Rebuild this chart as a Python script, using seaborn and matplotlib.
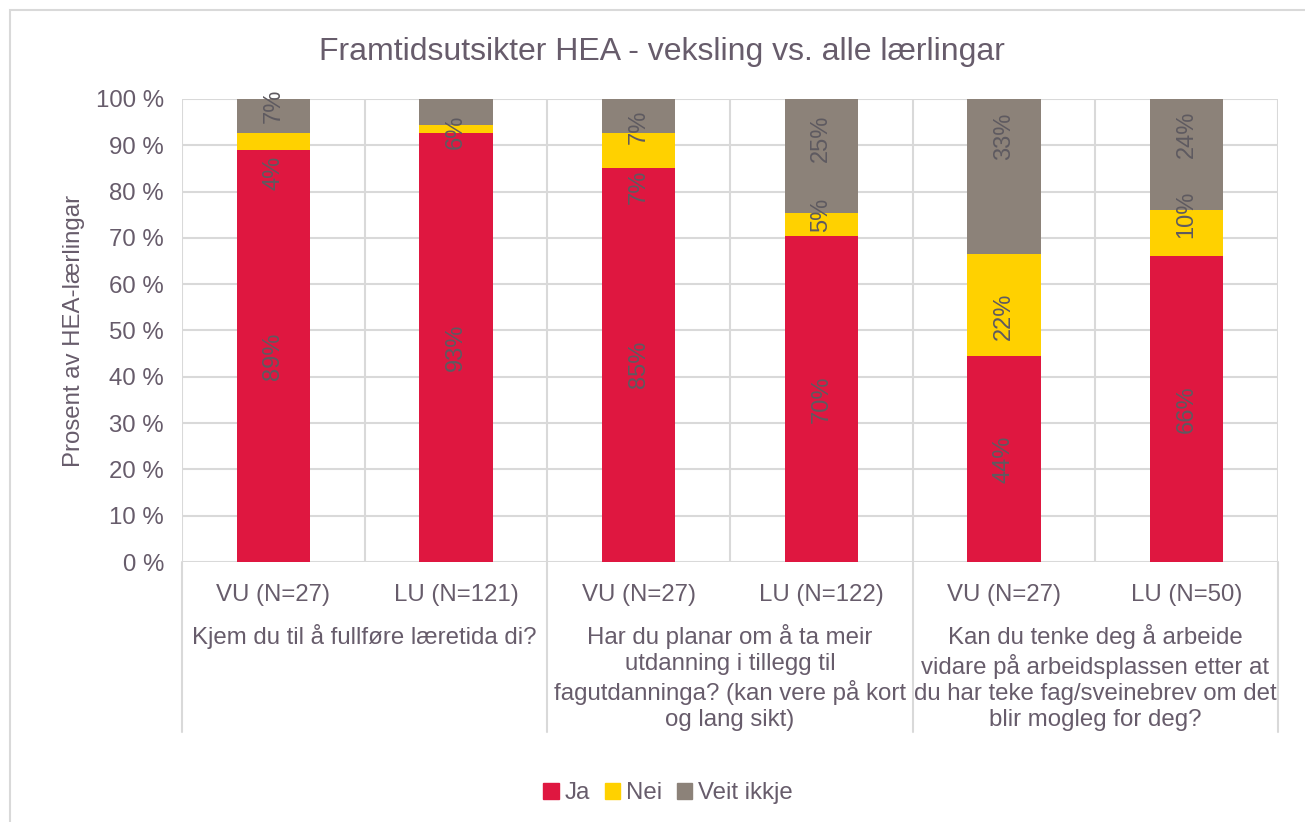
import numpy as np
import pandas as pd
import matplotlib.pyplot as plt
import matplotlib.patches as mpatches
import seaborn as sns

# data
bar_keys = ['q1_vu', 'q1_lu', 'q2_vu', 'q2_lu', 'q3_vu', 'q3_lu']
bar_labels = ['VU (N=27)', 'LU (N=121)', 'VU (N=27)', 'LU (N=122)', 'VU (N=27)', 'LU (N=50)']
ja = [88.9, 92.6, 85.2, 70.5, 44.4, 66.0]
nei = [3.7, 1.7, 7.4, 4.9, 22.2, 10.0]
veit = [7.4, 5.7, 7.4, 24.6, 33.4, 24.0]
questions = [
    'Kjem du til å fullføre læretida di?',
    'Har du planar om å ta meir\nutdanning i tillegg til\nfagutdanninga? (kan vere på kort\nog lang sikt)',
    'Kan du tenke deg å arbeide\nvidare på arbeidsplassen etter at\ndu har teke fag/sveinebrev om det\nblir mogleg for deg?',
]
series = ['Ja', 'Nei', 'Veit ikkje']
colors = ['#DF1740', '#FFD100', '#8C8279']

text_col = '#675C6B'
label_col = '#5E5A60'
grid_col = '#D9D9D9'

# how far Excel moved some data labels away from the segment centre (in % units)
label_nudge = {(0, 1): -6.7, (0, 2): 2.2, (1, 2): -4.2, (2, 1): -7.9, (2, 2): -2.3,
               (3, 1): 2.0, (3, 2): 3.8, (4, 1): -2.5, (4, 2): 8.7, (5, 1): 4.0, (5, 2): 4.3}

sns.set_theme(style="white")
plt.rcParams['font.family'] = ['Liberation Sans', 'DejaVu Sans']

df = pd.DataFrame({'key': bar_keys, 'ja': ja, 'nei': nei, 'veit': veit})
df['ja_nei'] = df['ja'] + df['nei']
df['total'] = df['ja_nei'] + df['veit']

fig = plt.figure(figsize=(13.05, 8.22), dpi=100)
ax = fig.add_axes([182 / 1305, 1 - 562 / 822, (1278 - 182) / 1305, (562 - 99) / 822])

# stacked bars: draw cumulative tops back to front
sns.barplot(data=df, x='key', y='total', color=colors[2], width=0.4, order=bar_keys,
            errorbar=None, saturation=1, ax=ax, zorder=3)
sns.barplot(data=df, x='key', y='ja_nei', color=colors[1], width=0.4, order=bar_keys,
            errorbar=None, saturation=1, ax=ax, zorder=3)
sns.barplot(data=df, x='key', y='ja', color=colors[0], width=0.4, order=bar_keys,
            errorbar=None, saturation=1, ax=ax, zorder=3)
for p in ax.patches:
    p.set_linewidth(0)

# data labels
for i, row in df.iterrows():
    segs = [(0, row['ja']), (row['ja'], row['nei']), (row['ja_nei'], row['veit'])]
    for s, (base, val) in enumerate(segs):
        if val < 3:
            continue
        y = base + val / 2 + label_nudge.get((i, s), 0)
        ax.text(i, y, f"{val:.0f}%", rotation=90, ha='center', va='center',
                fontsize=17, color=label_col, zorder=5)

ax.set_xlim(-0.5, 5.5)
ax.set_ylim(0, 100)
ax.set_yticks(np.arange(0, 101, 10))
ax.set_yticklabels([f"{v} %" for v in range(0, 101, 10)])
ax.set_xticks(range(6))
ax.set_xticklabels(bar_labels)
ax.tick_params(axis='both', length=0, labelsize=17.3, colors=text_col)
ax.tick_params(axis='y', pad=13)
ax.tick_params(axis='x', pad=16)
ax.set_xlabel('')
ax.set_ylabel('Prosent av HEA-lærlingar', fontsize=17.3, color=text_col, labelpad=8)
for s in ax.spines.values():
    s.set_visible(False)

ax.yaxis.grid(True, color=grid_col, linewidth=1.5, zorder=0)
ax.set_axisbelow(True)
for xb in np.arange(-0.5, 6, 1):
    ax.axvline(xb, color=grid_col, linewidth=1.5, zorder=1)

# multi-level category axis
trans = ax.get_xaxis_transform()
for xb in [-0.5, 1.5, 3.5, 5.5]:
    ax.plot([xb, xb], [0, -0.367], transform=trans, color=grid_col, linewidth=1.5, clip_on=False)
for g, q in enumerate(questions):
    ax.text(2 * g + 0.5, -0.134, q, transform=trans, ha='center', va='top',
            fontsize=17.3, color=text_col, linespacing=1.24, multialignment='center')

fig.suptitle('Framtidsutsikter HEA - veksling vs. alle lærlingar', fontsize=23,
             color=text_col, x=0.507, y=1 - 52 / 822, va='center')

handles = [mpatches.Patch(color=c, label=s) for c, s in zip(colors, series)]
fig.legend(handles=handles, loc='center', bbox_to_anchor=(0.512, 1 - 793 / 822), ncol=3,
           frameon=False, fontsize=17.3, handlelength=0.65, handleheight=0.65,
           handletextpad=0.25, columnspacing=0.6, labelcolor=text_col)

# outer chart frame
fig.patches.append(mpatches.Rectangle((10 / 1305, -0.1), 1.2, 1.1 - 10 / 822, fill=False,
                                      edgecolor=grid_col, linewidth=1.5,
                                      transform=fig.transFigure, figure=fig))

plt.savefig('out.png', dpi=100)
